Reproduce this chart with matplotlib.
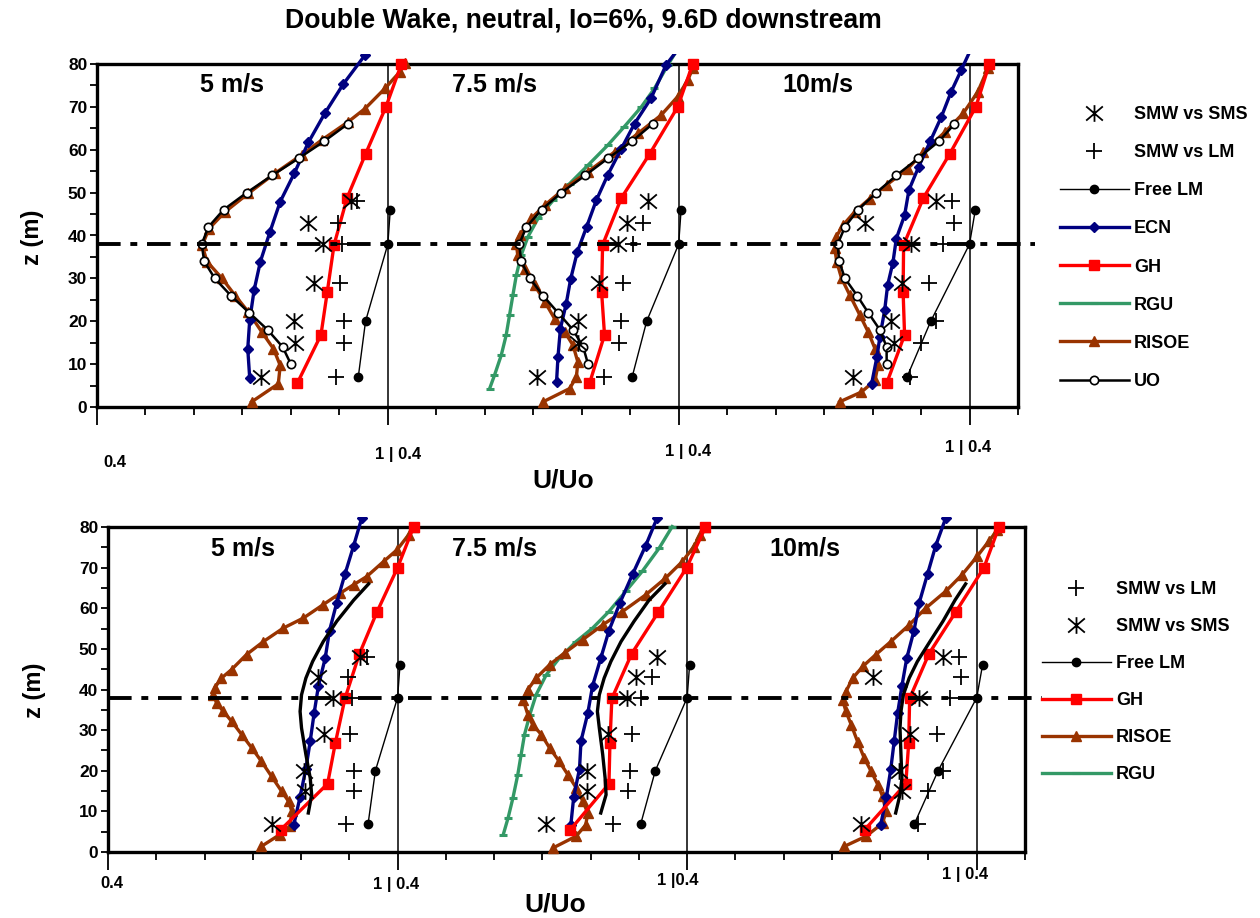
import matplotlib
matplotlib.use("Agg")
import matplotlib.pyplot as plt
import numpy as np
from matplotlib.lines import Line2D
from matplotlib.patches import Rectangle
from matplotlib.path import Path
from matplotlib.ticker import FixedLocator, MultipleLocator

plt.rcParams["font.family"] = ["Liberation Sans", "DejaVu Sans"]
plt.rcParams["font.weight"] = "bold"
plt.rcParams["lines.scale_dashes"] = False

# each wind speed gets its own 0.4..1.0 strip, shifted by 0.6 on one axis
SPEEDS = ["5 m/s", "7.5 m/s", "10m/s"]
SEG = 0.6

# measurements (same in both panels)
FREE_LM_Z = [7, 20, 38, 46]
FREE_LM_U = [[0.939, 0.954, 1.000, 1.005],
             [0.904, 0.934, 1.000, 1.005],
             [0.871, 0.920, 1.000, 1.012]]

SMW_Z = [7, 15, 20, 29, 38, 43, 48]
SMW_SMS_U = [[0.739, 0.809, 0.806, 0.848, 0.867, 0.836, 0.923],
             [0.708, 0.792, 0.792, 0.836, 0.875, 0.894, 0.937],
             [0.760, 0.845, 0.839, 0.861, 0.880, 0.785, 0.930]]
SMW_LM_U = [[0.893, 0.910, 0.910, 0.902, 0.906, 0.898, 0.936],
            [0.846, 0.877, 0.882, 0.886, 0.905, 0.927, np.nan],
            [0.878, 0.900, 0.930, 0.917, 0.945, 0.968, 0.964]]

# GH model
GH_Z = [5.5, 16.8, 26.8, 37.8, 48.8, 59, 70, 80]
GH_TOP_U = [[0.813, 0.862, 0.875, 0.889, 0.916, 0.954, 0.996, 1.028],
            [0.816, 0.847, 0.841, 0.843, 0.882, 0.940, 0.998, 1.029],
            [0.829, 0.866, 0.863, 0.864, 0.905, 0.959, 1.013, 1.041]]
GH_BOT_U = [[0.758, 0.855, 0.871, 0.891, 0.921, 0.957, 1.000, 1.033],
            [0.758, 0.838, 0.840, 0.844, 0.885, 0.940, 0.999, 1.038],
            [0.768, 0.853, 0.859, 0.861, 0.901, 0.956, 1.015, 1.046]]

# ECN model
ECN_TOP_Z = [[6.8, 13.6, 20.2, 27.2, 33.9, 40.9, 47.9, 54.5, 61.7, 68.5, 75.3, 82.1],
             [5.8, 11.7, 18.3, 24.1, 29.8, 36.2, 42.0, 48.2, 54.2, 60.1, 66.1, 72.0, 79.8, 85.8],
             [5.4, 11.7, 16.3, 22.6, 28.4, 33.7, 39.3, 44.7, 50.6, 56.0, 62.0, 67.7, 73.5, 78.6, 84.0]]
ECN_TOP_U = [[0.715, 0.711, 0.715, 0.724, 0.737, 0.757, 0.778, 0.807, 0.836, 0.870, 0.908, 0.953],
             [0.748, 0.751, 0.756, 0.768, 0.777, 0.791, 0.810, 0.830, 0.854, 0.881, 0.909, 0.943, 0.974, 1.015],
             [0.798, 0.809, 0.815, 0.825, 0.831, 0.842, 0.849, 0.866, 0.875, 0.895, 0.919, 0.942, 0.962, 0.983, 1.005]]
ECN_BOT_Z = [6.7, 13.6, 20.5, 27.3, 34.1, 40.9, 47.7, 54.5, 61.4, 68.4, 75.4, 82.3]
ECN_BOT_U = [[0.785, 0.798, 0.810, 0.819, 0.827, 0.836, 0.850, 0.859, 0.874, 0.891, 0.909, 0.926],
             [0.759, 0.765, 0.777, 0.780, 0.794, 0.804, 0.821, 0.838, 0.861, 0.887, 0.914, 0.938],
             [0.801, 0.813, 0.822, 0.829, 0.836, 0.845, 0.855, 0.870, 0.881, 0.898, 0.915, 0.936]]

# UO model (top, with markers) and unlabelled black curve (bottom)
UO_Z = [10, 14, 18, 22, 26, 30, 34, 38, 42, 46, 50, 54, 58, 62, 66]
UO_U = [[0.800, 0.783, 0.752, 0.714, 0.676, 0.643, 0.621, 0.616, 0.630, 0.661, 0.709, 0.761, 0.816, 0.869, 0.917],
        [0.813, 0.803, 0.782, 0.751, 0.720, 0.693, 0.675, 0.671, 0.686, 0.717, 0.758, 0.807, 0.854, 0.904, 0.946],
        [0.829, 0.829, 0.815, 0.791, 0.768, 0.743, 0.731, 0.728, 0.743, 0.770, 0.808, 0.849, 0.894, 0.937, 0.969]]
BLACK_Z = [9.6, 14.1, 18.2, 24, 30.5, 34.6, 38.7, 42.8, 46.9, 51.8, 56.8, 62, 66]
BLACK_U = [[0.815, 0.822, 0.819, 0.810, 0.801, 0.798, 0.801, 0.810, 0.824, 0.846, 0.874, 0.909, 0.940],
           [0.821, 0.832, 0.830, 0.825, 0.818, 0.814, 0.818, 0.828, 0.842, 0.863, 0.890, 0.921, 0.954],
           [0.832, 0.841, 0.845, 0.843, 0.841, 0.843, 0.848, 0.860, 0.877, 0.903, 0.930, 0.955, 0.977]]

# RISOE model
RISOE_TOP_Z = [[1.2, 5.4, 9.7, 13.6, 17.5, 22.2, 26.0, 30.0, 33.9, 37.7, 41.6, 45.5, 49.8, 54.5, 58.8, 62.3, 66.5, 69.6, 74.3, 78.2, 80.2],
               [1.2, 4.3, 7.0, 10.5, 14.4, 17.5, 20.6, 24.5, 28.4, 32.3, 35.4, 38.1, 40.1, 44.0, 47.1, 51.0, 54.9, 59.5, 63.8, 68.1, 72.4, 76.3, 79.0],
               [1.2, 3.5, 6.2, 9.7, 13.6, 17.5, 21.4, 26.1, 30.0, 33.9, 37.0, 39.7, 42.4, 45.5, 48.6, 51.8, 55.6, 59.5, 64.2, 68.5, 73.5, 79.0]]
RISOE_TOP_U = [[0.719, 0.774, 0.778, 0.764, 0.740, 0.712, 0.685, 0.658, 0.627, 0.617, 0.631, 0.664, 0.712, 0.767, 0.822, 0.864, 0.918, 0.953, 0.994, 1.025, 1.035],
               [0.720, 0.775, 0.789, 0.792, 0.782, 0.765, 0.744, 0.724, 0.703, 0.682, 0.668, 0.665, 0.672, 0.696, 0.724, 0.765, 0.813, 0.868, 0.916, 0.964, 0.998, 1.019, 1.029],
               [0.732, 0.777, 0.805, 0.811, 0.805, 0.791, 0.774, 0.753, 0.736, 0.726, 0.722, 0.725, 0.739, 0.763, 0.794, 0.829, 0.873, 0.905, 0.950, 0.987, 1.017, 1.038]]
RISOE_BOT_Z = [[1.4, 4.3, 6.3, 10.0, 12.5, 14.9, 18.6, 22.3, 25.6, 28.9, 32.2, 34.6, 36.7, 38.7, 40.4, 42.8, 44.9, 48.6, 51.8, 55.1, 57.6, 60.9, 63.7, 65.8, 67.8, 71.5, 74.4, 78.1, 80.0],
               [1.0, 3.9, 6.7, 9.6, 12.5, 15.8, 19.0, 22.3, 25.6, 28.9, 31.3, 33.8, 37.5, 40.0, 42.8, 46.1, 49.0, 52.3, 55.9, 59.2, 63.3, 67.4, 71.5, 75.2, 78.1, 80.0],
               [1.4, 3.9, 7.1, 10.0, 13.7, 16.6, 19.9, 23.1, 27.2, 31.3, 34.6, 37.5, 39.5, 42.8, 45.7, 48.6, 51.8, 55.9, 60.0, 64.2, 68.3, 72.8, 76.5, 79.3]]
RISOE_BOT_U = [[0.718, 0.756, 0.777, 0.781, 0.774, 0.760, 0.739, 0.718, 0.698, 0.677, 0.656, 0.639, 0.625, 0.618, 0.621, 0.635, 0.656, 0.687, 0.722, 0.763, 0.805, 0.846, 0.881, 0.909, 0.936, 0.971, 0.999, 1.023, 1.033],
               [0.722, 0.770, 0.790, 0.794, 0.784, 0.770, 0.753, 0.735, 0.715, 0.698, 0.680, 0.670, 0.660, 0.670, 0.687, 0.715, 0.746, 0.784, 0.825, 0.866, 0.914, 0.955, 0.990, 1.014, 1.027, 1.038],
               [0.726, 0.771, 0.805, 0.812, 0.805, 0.795, 0.781, 0.767, 0.753, 0.740, 0.729, 0.722, 0.729, 0.743, 0.764, 0.791, 0.822, 0.860, 0.894, 0.936, 0.970, 1.001, 1.025, 1.043]]

# RGU model, 7.5 m/s only
RGU_TOP_Z = [4.3, 7.4, 12.1, 16.7, 21.4, 26.1, 30.7, 35.4, 39.7, 44.0, 48.2, 52.1, 56.4, 61.1, 65.4, 70.0, 74.3, 79.8, 83.0]
RGU_TOP_U = [0.610, 0.620, 0.634, 0.644, 0.651, 0.658, 0.665, 0.675, 0.689, 0.710, 0.741, 0.775, 0.813, 0.854, 0.888, 0.923, 0.950, 0.978, 0.995]
RGU_BOT_Z = [4.3, 8.4, 13.3, 19.0, 24.0, 28.9, 33.8, 38.7, 43.6, 47.7, 51.8, 55.1, 59.2, 64.2, 69.1, 74.8, 80.1]
RGU_BOT_U = [0.619, 0.629, 0.639, 0.649, 0.656, 0.663, 0.674, 0.687, 0.708, 0.735, 0.770, 0.804, 0.838, 0.873, 0.907, 0.942, 0.969]

HUB_Z = 38

NAVY = "#000080"
RED = "#ff0000"
BROWN = "#993300"
GREEN = "#339966"

W, H = 1260, 918

STAR = Path([(-1, -0.85), (1, 0.85), (-1, 0.85), (1, -0.85), (0, -1), (0, 1)],
            [Path.MOVETO, Path.LINETO, Path.MOVETO, Path.LINETO, Path.MOVETO, Path.LINETO])

STYLES = {
    "SMW vs SMS": dict(ls="none", marker=STAR, ms=12, mec="black", mfc="none", mew=1.3),
    "SMW vs LM": dict(ls="none", marker="+", ms=11, mec="black", mew=1.3),
    "Free LM": dict(color="black", lw=1.0, marker="o", ms=6, mfc="black", mec="black"),
    "ECN": dict(color=NAVY, lw=2.4, marker="D", ms=5.5, mfc=NAVY, mec=NAVY),
    "GH": dict(color=RED, lw=2.4, marker="s", ms=7.5, mfc=RED, mec=RED),
    "RGU": dict(color=GREEN, lw=2.4, marker="_", ms=6, mew=2.2, mec=GREEN),
    "RISOE": dict(color=BROWN, lw=2.4, marker="^", ms=6.5, mfc=BROWN, mec=BROWN),
    "UO": dict(color="black", lw=1.8, marker="o", ms=6, mfc="white", mec="black", mew=1.2),
    "black": dict(color="black", lw=2.4),
}


def px(x, y):
    return x / W, 1 - y / H


def curve(ax, clip, z, u, k, key, zorder=3):
    (line,) = ax.plot(np.asarray(u, float) + SEG * k, z, zorder=zorder, **STYLES[key])
    line.set_clip_path(clip)
    return line


def style_axes(ax):
    ax.set_xlim(0.4, 2.3)
    ax.set_ylim(0, 80)
    for s in ax.spines.values():
        s.set_linewidth(2.4)
    ax.xaxis.set_major_locator(FixedLocator([0.4, 1.0, 1.6, 2.2]))
    ax.xaxis.set_minor_locator(MultipleLocator(0.1))
    ax.yaxis.set_major_locator(MultipleLocator(10))
    ax.yaxis.set_minor_locator(MultipleLocator(5))
    ax.tick_params(axis="x", which="major", length=13, width=1.3, labelbottom=False)
    ax.tick_params(axis="x", which="minor", length=6, width=1.3)
    ax.tick_params(axis="y", which="both", length=5, width=1.3, labelsize=12.5, pad=2)
    for lab in ax.get_yticklabels():
        lab.set_fontweight("bold")
    for k in range(3):
        ax.plot([1.0 + SEG * k] * 2, [0, 80], color="black", lw=1.1, zorder=2)
    ax.plot([0.4, 2.335], [HUB_Z, HUB_Z], color="black", lw=2.8, dashes=(17, 7, 5, 7),
            clip_on=False, zorder=6)


def clip_box(ax):
    return Rectangle((0.35, -5), 2.0, 87.4, transform=ax.transData)


fig = plt.figure(figsize=(W / 100, H / 100), dpi=100)
ax_top = fig.add_axes([97 / W, 1 - 407 / H, 921 / W, 343 / H])
ax_bot = fig.add_axes([108 / W, 1 - 852 / H, 917 / W, 325 / H])

# top panel
clip = clip_box(ax_top)
style_axes(ax_top)
for k in range(3):
    if k == 1:
        curve(ax_top, clip, RGU_TOP_Z, RGU_TOP_U, k, "RGU")
    curve(ax_top, clip, RISOE_TOP_Z[k], RISOE_TOP_U[k], k, "RISOE")
    curve(ax_top, clip, UO_Z, UO_U[k], k, "UO", zorder=4)
    curve(ax_top, clip, ECN_TOP_Z[k], ECN_TOP_U[k], k, "ECN")
    curve(ax_top, clip, GH_Z, GH_TOP_U[k], k, "GH")
    curve(ax_top, clip, FREE_LM_Z, FREE_LM_U[k], k, "Free LM")
    curve(ax_top, clip, SMW_Z, SMW_SMS_U[k], k, "SMW vs SMS", zorder=5)
    curve(ax_top, clip, SMW_Z, SMW_LM_U[k], k, "SMW vs LM", zorder=5)

# bottom panel
clip = clip_box(ax_bot)
style_axes(ax_bot)
for k in range(3):
    if k == 1:
        curve(ax_bot, clip, RGU_BOT_Z, RGU_BOT_U, k, "RGU")
    curve(ax_bot, clip, RISOE_BOT_Z[k], RISOE_BOT_U[k], k, "RISOE")
    curve(ax_bot, clip, BLACK_Z, BLACK_U[k], k, "black", zorder=4)
    curve(ax_bot, clip, ECN_BOT_Z, ECN_BOT_U[k], k, "ECN")
    curve(ax_bot, clip, GH_Z, GH_BOT_U[k], k, "GH")
    curve(ax_bot, clip, FREE_LM_Z, FREE_LM_U[k], k, "Free LM")
    curve(ax_bot, clip, SMW_Z, SMW_SMS_U[k], k, "SMW vs SMS", zorder=5)
    curve(ax_bot, clip, SMW_Z, SMW_LM_U[k], k, "SMW vs LM", zorder=5)


def legend(labels, anchor, spacing):
    handles = [Line2D([], [], **STYLES[name]) for name in labels]
    fig.legend(handles, labels, loc="upper left", bbox_to_anchor=anchor, frameon=False,
               prop=dict(size=13, weight="bold"), handlelength=3.8, handletextpad=0.3,
               labelspacing=spacing, borderpad=0, borderaxespad=0)


legend(["SMW vs SMS", "SMW vs LM", "Free LM", "ECN", "GH", "RGU", "RISOE", "UO"], px(1060, 106), 1.17)
legend(["SMW vs LM", "SMW vs SMS", "Free LM", "GH", "RISOE", "RGU"], px(1042, 581), 1.11)

fig.text(*px(583, 21), "Double Wake, neutral, Io=6%, 9.6D downstream", ha="center", va="center",
         fontsize=19.2, fontweight="bold")

for (x, y), s in zip([(232, 85), (495, 85), (818, 85)], SPEEDS):
    fig.text(*px(x, y), s, ha="center", va="center", fontsize=18, fontweight="bold")
for (x, y), s in zip([(243, 548), (495, 548), (805, 548)], SPEEDS):
    fig.text(*px(x, y), s, ha="center", va="center", fontsize=18, fontweight="bold")

top_ticks = [(115, 463, "0.4"), (398, 455, "1 | 0.4"), (688, 452, "1 | 0.4"), (968, 447, "1 | 0.4")]
bot_ticks = [(112, 883, "0.4"), (396, 884, "1 | 0.4"), (678, 880, "1 |0.4"), (965, 875, "1 | 0.4")]
for x, y, s in top_ticks + bot_ticks:
    fig.text(*px(x, y), s, ha="center", va="center", fontsize=12, fontweight="bold")

fig.text(*px(563, 480), "U/Uo", ha="center", va="center", fontsize=19, fontweight="bold")
fig.text(*px(555, 905), "U/Uo", ha="center", va="center", fontsize=19, fontweight="bold")
fig.text(*px(32, 237), "z (m)", ha="center", va="center", rotation=90, fontsize=17, fontweight="bold")
fig.text(*px(35, 690), "z (m)", ha="center", va="center", rotation=90, fontsize=17, fontweight="bold")

fig.savefig("out.png", dpi=100)
